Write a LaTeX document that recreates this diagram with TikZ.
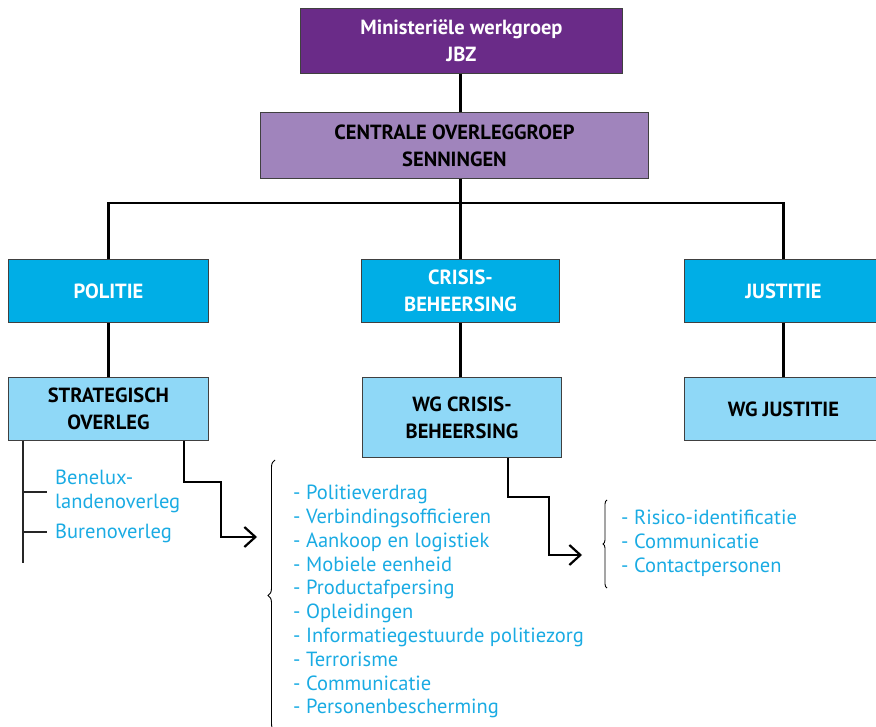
\documentclass[tikz,border=0pt]{standalone}
\usepackage{fontspec}
\setmainfont{PT Sans}
\usetikzlibrary{arrows.meta,decorations.pathreplacing}
\definecolor{darkpurple}{HTML}{6A2B88}
\definecolor{lightpurple}{HTML}{A084BC}
\definecolor{cyanbox}{HTML}{00AEE6}
\definecolor{lightcyan}{HTML}{8FD8F7}
\definecolor{itemblue}{HTML}{1AABE3}
\begin{document}
\begin{tikzpicture}[x=1pt,y=-1pt,
  box/.style={draw=black!75, line width=0.9pt, inner sep=0pt, anchor=north west,
    align=center, font=\bfseries\fontsize{20.5}{27}\selectfont},
  conn/.style={line width=2.2pt},
  thin/.style={line width=1.4pt, draw=black!85},
  arr/.style={line width=2.2pt, -{Straight Barb[length=11pt,width=20pt,line width=2.2pt]}},
  item/.style={text=itemblue, inner sep=0pt, align=left, font=\fontsize{20.5}{23.8}\selectfont},
  bracestyle/.style={line width=0.9pt, decorate}
]
\useasboundingbox (0,0) rectangle (876,727);
% boxes
\node[box, fill=darkpurple, text=white, minimum width=322pt, minimum height=65pt] (mw) at (300,8) {Ministeriële werkgroep\\JBZ};
\node[box, fill=lightpurple, minimum width=388pt, minimum height=66pt] (cog) at (260,112) {CENTRALE OVERLEGGROEP\\SENNINGEN};
\node[box, fill=cyanbox, text=white, minimum width=200pt, minimum height=63pt] (pol) at (8,259) {POLITIE};
\node[box, fill=cyanbox, text=white, minimum width=198pt, minimum height=63pt] (crs) at (361,259) {CRISIS-\\BEHEERSING};
\node[box, fill=cyanbox, text=white, minimum width=198pt, minimum height=63pt] (jus) at (684,259) {JUSTITIE};
\node[box, fill=lightcyan, minimum width=200pt, minimum height=63pt] (str) at (8,377) {STRATEGISCH\\OVERLEG};
\node[box, fill=lightcyan, minimum width=199pt, minimum height=80pt] (wgc) at (362,377) {WG CRISIS-\\BEHEERSING};
\node[box, fill=lightcyan, minimum width=198pt, minimum height=63pt] (wgj) at (684,377) {WG JUSTITIE};
% connectors
\coordinate (busL) at (pol.north |- 0,203);
\coordinate (busR) at (jus.north |- 0,203);
\draw[conn] (mw.south -| crs.north) -- (cog.north -| crs.north);
\draw[conn] (cog.south -| crs.north) -- (crs.north);
\draw[conn] (pol.north) -- (busL) -- (busR) -- (jus.north);
\draw[conn] (pol.south) -- (str.north);
\draw[conn] (crs.south) -- (crs.south |- wgc.north);
\draw[conn] (jus.south) -- (jus.south |- wgj.north);
% left list
\coordinate (ltop) at ([xshift=15pt]str.south west);
\coordinate (lbot) at (ltop |- 0,563);
\draw[thin] (ltop) -- (lbot);
\node[item, anchor=north west] (ben) at (55,470) {Benelux-\\landenoverleg};
\node[item, anchor=north west] (bur) at (55,524) {Burenoverleg};
\draw[thin] (ltop |- 0,492) -- (47,492);
\draw[thin] (ltop |- 0,532) -- (47,532);
% arrows
\coordinate (a1s) at ([xshift=-25pt]str.south east);
\coordinate (a1e) at (257,537);
\draw[arr] (a1s) -- (a1s |- 0,482) -- (221,482) -- (221,537) -- (a1e);
\coordinate (a2s) at ([xshift=146pt]wgc.south west);
\coordinate (a2e) at (582,555);
\draw[arr] (a2s) -- (a2s |- 0,497) -- (549,497) -- (549,555) -- (a2e);
% braces
\coordinate (b1b) at (275,731);
\coordinate (b1t) at (275,460);
\draw[bracestyle, decoration={brace,amplitude=7pt}] (b1b) -- (b1t);
\coordinate (b2b) at (607,588);
\coordinate (b2t) at (607,500);
\draw[bracestyle, decoration={brace,amplitude=4pt}] (b2b) -- (b2t);
% lists
\node[item, anchor=north west] (l1) at (293,485) {- Politieverdrag\\- Verbindingsofficieren\\- Aankoop en logistiek\\- Mobiele eenheid\\- Productafpersing\\- Opleidingen\\- Informatiegestuurde politiezorg\\- Terrorisme\\- Communicatie\\- Personenbescherming};
\node[item, anchor=north west] (l2) at (621,510) {- Risico-identificatie\\- Communicatie\\- Contactpersonen};
\end{tikzpicture}
\end{document}
